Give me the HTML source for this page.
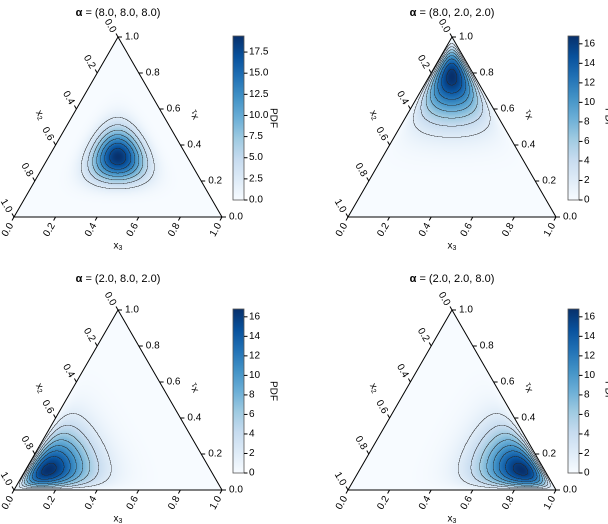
<!DOCTYPE html>
<html><head><meta charset="utf-8">
<style>
html,body{margin:0;padding:0;background:#fff;}
#wrap{position:relative;width:608px;height:524px;overflow:hidden;font-family:"Liberation Sans","DejaVu Sans",sans-serif;}
canvas{position:absolute;}
svg{position:absolute;left:0;top:0;}
</style></head>
<body>
<div id="wrap">
<svg id="svg" width="608" height="524"></svg>
</div>
<script>
// ---- data ----
const alphaP1 = [8.0, 8.0, 8.0];
const alphaP2 = [8.0, 2.0, 2.0];
const alphaP3 = [2.0, 8.0, 2.0];
const alphaP4 = [2.0, 2.0, 8.0];
const titles = ["(8.0, 8.0, 8.0)", "(8.0, 2.0, 2.0)", "(2.0, 8.0, 2.0)", "(2.0, 2.0, 8.0)"];
const axisTicks = [0, 0.2, 0.4, 0.6, 0.8, 1.0];
const cbTicksP1 = [0, 2.5, 5, 7.5, 10, 12.5, 15, 17.5];
const cbTicksOther = [0, 2, 4, 6, 8, 10, 12, 14, 16];
const contourStepP1 = 2.5;
const contourStepOther = 2;

const panels = [
  {alpha: alphaP1, ax: 118, ay: 37, by: 217, cbx: 233, cbt: 36, cbb: 200, ty: 13, ticks: cbTicksP1, step: contourStepP1, fmt: 1},
  {alpha: alphaP2, ax: 452, ay: 37, by: 217, cbx: 568, cbt: 36, cbb: 200, ty: 13, ticks: cbTicksOther, step: contourStepOther, fmt: 0},
  {alpha: alphaP3, ax: 118, ay: 310, by: 490, cbx: 233, cbt: 309, cbb: 473, ty: 279, ticks: cbTicksOther, step: contourStepOther, fmt: 0},
  {alpha: alphaP4, ax: 452, ay: 310, by: 490, cbx: 568, cbt: 309, cbb: 473, ty: 279, ticks: cbTicksOther, step: contourStepOther, fmt: 0}
];

const blues = [[247,251,255],[222,235,247],[198,219,239],[158,202,225],[107,174,214],[66,146,198],[33,113,181],[8,81,156],[8,48,107]];
function cmap(t){t=Math.max(0,Math.min(1,t));const s=t*8;const i=Math.min(7,Math.floor(s));const f=s-i;const a=blues[i],b=blues[i+1];return [a[0]+(b[0]-a[0])*f,a[1]+(b[1]-a[1])*f,a[2]+(b[2]-a[2])*f];}
function lgamma(z){const g=7,c=[0.99999999999980993,676.5203681218851,-1259.1392167224028,771.32342877765313,-176.61502916214059,12.507343278686905,-0.13857109526572012,9.9843695780195716e-6,1.5056327351493116e-7];
 if(z<0.5)return Math.log(Math.PI/Math.sin(Math.PI*z))-lgamma(1-z);z-=1;let x=c[0];for(let i=1;i<g+2;i++)x+=c[i]/(z+i);const t=z+g+0.5;return 0.5*Math.log(2*Math.PI)+(z+0.5)*Math.log(t)-t+Math.log(x);}
function pdf(alpha,x){const s=alpha[0]+alpha[1]+alpha[2];let l=lgamma(s);for(let i=0;i<3;i++){if(x[i]<=0)return 0;l+=(alpha[i]-1)*Math.log(x[i])-lgamma(alpha[i]);}return Math.exp(l);}

const NS="http://www.w3.org/2000/svg";
const svg=document.getElementById('svg');
const wrap=document.getElementById('wrap');
function el(tag,attrs,parent){const e=document.createElementNS(NS,tag);for(const k in attrs)e.setAttribute(k,attrs[k]);(parent||svg).appendChild(e);return e;}
function txt(x,y,s,attrs,parent){const t=el('text',Object.assign({x:x,y:y,'font-size':10,fill:'#000','text-anchor':'middle','dominant-baseline':'central'},attrs||{}),parent);t.textContent=s;return t;}

panels.forEach((p,pi)=>{
  const W=208, H=p.by-p.ay;
  const A=[p.ax,p.ay], BL=[p.ax-104,p.by], BR=[p.ax+104,p.by];
  const g=el('g',{});
  
  
  const S=2;
  const cv=document.createElement('canvas');
  cv.width=W*S;cv.height=H*S;
  cv.style.left=BL[0]+'px';cv.style.top=p.ay+'px';cv.style.width=W+'px';cv.style.height=H+'px';
  
  
  wrap.insertBefore(cv,svg);
  const ctx=cv.getContext('2d');
  const img=ctx.createImageData(cv.width,cv.height);
  const vals=new Float32Array(cv.width*cv.height);
  const inside=new Uint8Array(cv.width*cv.height);
  for(let j=0;j<cv.height;j++)for(let i=0;i<cv.width;i++){
    const px=BL[0]+(i+0.5)/S, py=p.ay+(j+0.5)/S;
    const x1=(p.by-py)/H;
    const x3=((px-BL[0])-(x1*104))/W;
    const x2=1-x1-x3;
    const k=j*cv.width+i;
    if(x1<0||x2<0||x3<0){continue;}
    inside[k]=1;
    vals[k]=pdf(p.alpha,[x1,x2,x3]);
  }
  const cbMax=p.ticks===cbTicksP1?19.4:16.8;
  for(let j=0;j<cv.height;j++)for(let i=0;i<cv.width;i++){
    const k=j*cv.width+i;if(!inside[k])continue;
    const c=cmap(vals[k]/cbMax);
    let r=c[0],gg=c[1],b=c[2];
    const L=Math.floor(vals[k]/p.step);
    let edge=false;
    for(const [di,dj] of [[1,0],[0,1],[1,1]]){
      const ii=i+di,jj=j+dj;if(ii>=cv.width||jj>=cv.height)continue;const kk=jj*cv.width+ii;if(!inside[kk])continue;
      const L2=Math.floor(vals[kk]/p.step);if(L2!==L&&Math.max(L,L2)>=1){edge=true;break;}
    }
    if(edge){r=r*0.2+30;gg=gg*0.2+30;b=b*0.2+30;}
    img.data[k*4]=r;img.data[k*4+1]=gg;img.data[k*4+2]=b;img.data[k*4+3]=255;
  }
  ctx.putImageData(img,0,0);
  const tri=el('polygon',{points:`${A} ${BL} ${BR}`,fill:'none',stroke:'#000','stroke-width':1},g);
  
  
  const tt=el('text',{x:p.ax,y:p.ty,'font-size':11,'text-anchor':'middle','dominant-baseline':'central'},g);
  
  
  const tb=el('tspan',{'font-weight':'bold'},tt);tb.textContent='α';
  const tr=el('tspan',{},tt);tr.textContent=' = '+titles[pi];
  axisTicks.forEach(t=>{
    const lab=t.toFixed(1);
    let x=BL[0]+t*W,y=p.by;
    el('line',{x1:x,y1:y,x2:x-2,y2:y+3.5,stroke:'#000','stroke-width':1},g);
    let e=txt(x-6,y+13,lab,{transform:`rotate(-60 ${x-6} ${y+13})`,'font-size':10},g);
    
    
    x=A[0]-t*104;y=A[1]+t*H;
    el('line',{x1:x,y1:y,x2:x-2,y2:y-3.5,stroke:'#000','stroke-width':1},g);
    e=txt(x-8,y-11,lab,{transform:`rotate(60 ${x-8} ${y-11})`},g);
    
    
    x=BR[0]-t*104;y=p.by-t*H;
    el('line',{x1:x,y1:y,x2:x+4,y2:y,stroke:'#000','stroke-width':1},g);
    e=txt(x+7,y,lab,{'text-anchor':'start'},g);
    
    
  });
  let a=txt(p.ax,p.by+29,'x',{},g);el('tspan',{'font-size':7,dy:2},a).textContent='3';
  
  let lx=p.ax-78,ly=p.ay+78;
  a=txt(lx,ly,'x',{transform:`rotate(60 ${lx} ${ly})`},g);el('tspan',{'font-size':7,dy:2},a).textContent='2';
  
  lx=p.ax+76;ly=p.ay+78;
  a=txt(lx,ly,'x',{transform:`rotate(-120 ${lx} ${ly})`},g);el('tspan',{'font-size':7,dy:2},a).textContent='1';
  
  const gid='cbg'+pi;
  const defs=el('defs',{},g);
  const lg=el('linearGradient',{id:gid,x1:0,y1:1,x2:0,y2:0},defs);
  blues.forEach((c,i)=>el('stop',{offset:i/8,'stop-color':`rgb(${c})`},lg));
  const cb=el('rect',{x:p.cbx,y:p.cbt,width:11,height:p.cbb-p.cbt,fill:`url(#${gid})`,stroke:'#555','stroke-width':0.8},g);
  
  
  p.ticks.forEach(v=>{
    const y=p.cbb-(p.cbb-p.cbt)*v/cbMax;
    el('line',{x1:p.cbx+11,y1:y,x2:p.cbx+14.5,y2:y,stroke:'#000','stroke-width':1},g);
    const e=txt(p.cbx+16,y,v.toFixed(p.fmt),{'text-anchor':'start'},g);
    
    
  });
  const cx=p.cbx+40,cy=(p.cbt+p.cbb)/2;
  const pl=txt(cx,cy,'PDF',{transform:`rotate(90 ${cx} ${cy})`},g);
  
  
});
</script>
</body></html>
